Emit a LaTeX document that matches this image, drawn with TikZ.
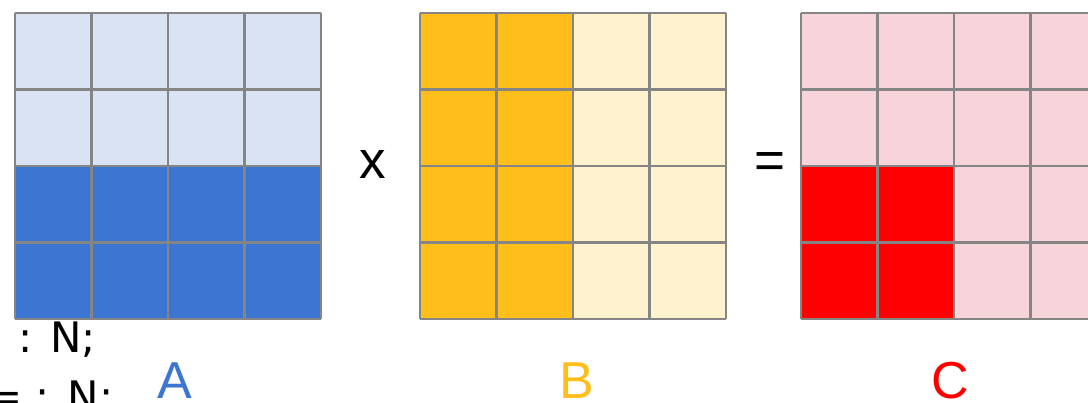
\documentclass[tikz,border=0pt]{standalone}
\usepackage{fontspec}
\setmainfont{Liberation Sans}
\newfontfamily\codefont{DejaVu Sans}

\definecolor{gridGrey}{HTML}{858585}
\definecolor{aLight}{HTML}{DAE3F3}
\definecolor{aDark}{HTML}{3C75D2}
\definecolor{bLight}{HTML}{FFF2CF}
\definecolor{bDark}{HTML}{FFBE1A}
\definecolor{cLight}{HTML}{F7D4DA}
\definecolor{cDark}{HTML}{FF0000}

\tikzset{
  gridline/.style={draw=gridGrey, line width=2.4pt},
  matlabel/.style={anchor=base, inner sep=0pt, text depth=0pt, font=\fontsize{52}{60}\selectfont},
  opsign/.style={anchor=base, inner sep=0pt, font=\fontsize{53}{60}\selectfont},
  codeline/.style={anchor=base west, inner sep=0pt, font=\codefont\fontsize{42}{50}\selectfont}
}

\begin{document}
\begin{tikzpicture}[x=1pt,y=-1pt]
    \useasboundingbox (0,0) rectangle (1088,403);
    % matrix A: lower half highlighted
    \fill[aLight] (15,13) rectangle (320,166);
    \fill[aDark] (15,166) rectangle (320,319);
    % matrix B: left half highlighted
    \fill[bLight] (420,13) rectangle (726,319);
    \fill[bDark] (420,13) rectangle (573,319);
    % matrix C: one 2x2 block highlighted
    \fill[cLight] (801,13) rectangle (1107,319);
    \fill[cDark] (801,166) rectangle (954,319);
    \foreach \x in {15,420,801} {
        \foreach \i in {0,...,4} {
            \draw[gridline] (\x+\i*76.5,13) -- (\x+\i*76.5,319);
            \draw[gridline] (\x,13+\i*76.5) -- (\x+306,13+\i*76.5);
        }
    }
    \node[opsign] (times) at (373,179) {x};
    \node[opsign] (equals) at (770,179) {=};
    \node[matlabel, text=aDark] (labA) at (175,399) {A};
    \node[matlabel, text=bDark] (labB) at (577,399) {B};
    \node[matlabel, text=cDark] (labC) at (950,399) {C};
    \node[codeline] (codeA) at (18,353) {: N;};
    \node[codeline] (codeB) at (-13,412) {= : N;};
\end{tikzpicture}
\end{document}
